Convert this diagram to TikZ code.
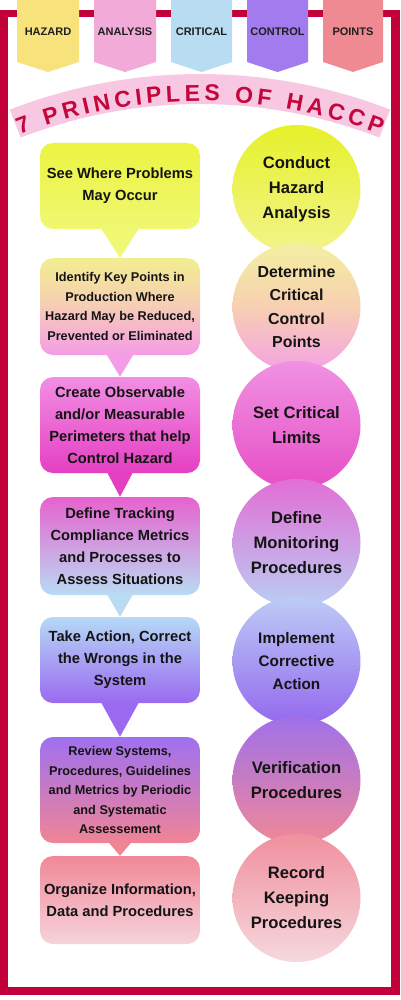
\documentclass[tikz,border=0pt]{standalone}
\usepackage{fontspec}
\setmainfont{Liberation Sans}
\usetikzlibrary{decorations.text}
\definecolor{framered}{HTML}{C20039}
\definecolor{titlered}{HTML}{C4063C}
\definecolor{bandpink}{HTML}{F8C8E3}
\definecolor{bnA}{HTML}{F7E27C}
\definecolor{bnB}{HTML}{F2AAD8}
\definecolor{bnC}{HTML}{B8DCF2}
\definecolor{bnD}{HTML}{A27CEE}
\definecolor{bnE}{HTML}{F08A92}
% boxes
\definecolor{sAt}{HTML}{EBF440}\definecolor{sAb}{HTML}{F0F772}
\definecolor{sBt}{HTML}{F2EE90}\definecolor{sBm}{HTML}{F6CDB5}\definecolor{sBb}{HTML}{F59CE6}
\definecolor{sCt}{HTML}{F28EE4}\definecolor{sCb}{HTML}{E53FC2}
\definecolor{sDt}{HTML}{E662CE}\definecolor{sDb}{HTML}{B9DBF3}
\definecolor{sEt}{HTML}{B5D9F6}\definecolor{sEb}{HTML}{9A6AF0}
\definecolor{sFt}{HTML}{A070F0}\definecolor{sFb}{HTML}{F08595}
\definecolor{sGt}{HTML}{F08898}\definecolor{sGb}{HTML}{F6D3DB}
% circles
\definecolor{cAt}{HTML}{E6F12A}\definecolor{cAb}{HTML}{F2F48C}
\definecolor{cBt}{HTML}{F3F0A0}\definecolor{cBm}{HTML}{F7CFB2}\definecolor{cBb}{HTML}{F4A2E4}
\definecolor{cCt}{HTML}{F092E2}\definecolor{cCb}{HTML}{E64EC6}
\definecolor{cDt}{HTML}{E26ED6}\definecolor{cDb}{HTML}{B9CEF2}
\definecolor{cEt}{HTML}{BCCCF6}\definecolor{cEb}{HTML}{9468EE}
\definecolor{cFt}{HTML}{A070EA}\definecolor{cFb}{HTML}{F08898}
\definecolor{cGt}{HTML}{F0909E}\definecolor{cGb}{HTML}{F6D8DE}
\begin{document}
\begin{tikzpicture}[x=1pt,y=-1pt,
  box/.style={shade, rounded corners=13pt, minimum width=160pt, inner sep=0pt,
    align=center, text=black!92, font=\bfseries\fontsize{14.7}{21.9}\selectfont},
  smallbox/.style={box, font=\bfseries\fontsize{12.7}{19.5}\selectfont},
  disc/.style={circle, shade, minimum size=128pt, inner sep=0pt, align=center,
    text=black!92, font=\bfseries\fontsize{16.6}{25}\selectfont},
  bannertext/.style={font=\bfseries\fontsize{11}{13}\selectfont, text=black!88}
]
\useasboundingbox (0,0) rectangle (400,1000);
% frame
\fill[white] (0,0) rectangle (400,1000);
\fill[framered] (0,10) rectangle (400,995);
\fill[white] (8,17) rectangle (391,987);
% banners
\fill[bnA] (17,0) -- (79,0) -- (79,62) -- (48,72) -- (17,62) -- cycle;
\fill[bnB] (94,0) -- (156,0) -- (156,62) -- (125,72) -- (94,62) -- cycle;
\fill[bnC] (171,0) -- (232,0) -- (232,62) -- (201.5,72) -- (171,62) -- cycle;
\fill[bnD] (247,0) -- (308,0) -- (308,62) -- (277.5,72) -- (247,62) -- cycle;
\fill[bnE] (323,0) -- (383,0) -- (383,62) -- (353,72) -- (323,62) -- cycle;
\node[bannertext] (t1) at (48,32) {HAZARD};
\node[bannertext] (t2) at (125,32) {ANALYSIS};
\node[bannertext] (t3) at (201.5,32) {CRITICAL};
\node[bannertext] (t4) at (277.5,32) {CONTROL};
\node[bannertext] (t5) at (353,32) {POINTS};
% title band
\fill[bandpink] ([shift={(-111.2:526)}]200,600) arc[start angle=-111.2, end angle=-68.8, radius=526]
  -- ([shift={(-68.8:496)}]200,600) arc[start angle=-68.8, end angle=-111.2, radius=496] -- cycle;
\path[decorate, decoration={text along path, text color=titlered,
   text={|\bfseries\fontsize{23}{23}\selectfont|7 PRINCIPLES OF HACCP},
   text align={fit to path}}]
  ([shift={(-111.2:499)}]200,600) arc[start angle=-111.2, end angle=-68.8, radius=499];
% speech boxes
\node[box, top color=sAt, bottom color=sAb, minimum height=86pt] (s1) at (120,186)
  {See Where Problems\\May Occur};
\node[smallbox, top color=sBt, bottom color=sBb, middle color=sBm, minimum height=97pt] (s2) at (120,306.5)
  {Identify Key Points in\\Production Where\\Hazard May be Reduced,\\Prevented or Eliminated};
\node[box, top color=sCt, bottom color=sCb, minimum height=96pt] (s3) at (120,425)
  {Create Observable\\and/or Measurable\\Perimeters that help\\Control Hazard};
\node[box, top color=sDt, bottom color=sDb, minimum height=98pt] (s4) at (120,546)
  {Define Tracking\\Compliance Metrics\\and Processes to\\Assess Situations};
\node[box, top color=sEt, bottom color=sEb, minimum height=86pt] (s5) at (120,660)
  {Take Action, Correct\\the Wrongs in the\\System};
\node[smallbox, top color=sFt, bottom color=sFb, minimum height=106pt] (s6) at (120,790)
  {Review Systems,\\Procedures, Guidelines\\and Metrics by Periodic\\and Systematic\\Assessement};
\node[box, top color=sGt, bottom color=sGb, minimum height=88pt] (s7) at (120,900)
  {Organize Information,\\Data and Procedures};
% pointers
\fill[sAb] ([xshift=-19pt,yshift=1pt]s1.south) -- ([xshift=19pt,yshift=1pt]s1.south) -- (s2.north) -- cycle;
\fill[sBb] ([xshift=-13.5pt,yshift=1pt]s2.south) -- ([xshift=13.5pt,yshift=1pt]s2.south) -- (s3.north) -- cycle;
\fill[sCb] ([xshift=-13pt,yshift=1pt]s3.south) -- ([xshift=13pt,yshift=1pt]s3.south) -- (s4.north) -- cycle;
\fill[sDb] ([xshift=-13pt,yshift=1pt]s4.south) -- ([xshift=13pt,yshift=1pt]s4.south) -- (s5.north) -- cycle;
\fill[sEb] ([xshift=-19pt,yshift=1pt]s5.south) -- ([xshift=19pt,yshift=1pt]s5.south) -- (s6.north) -- cycle;
\fill[sFb] ([xshift=-11.5pt,yshift=1pt]s6.south) -- ([xshift=11.5pt,yshift=1pt]s6.south) -- (s7.north) -- cycle;
% circles
\node[disc, top color=cAt, bottom color=cAb] (c1) at (296.5,189) {Conduct\\Hazard\\Analysis};
\node[disc, top color=cBt, bottom color=cBb, middle color=cBm,
  font=\bfseries\fontsize{15.9}{23.4}\selectfont] (c2) at (296.5,307) {Determine\\Critical\\Control\\Points};
\node[disc, top color=cCt, bottom color=cCb] (c3) at (296.5,425) {Set Critical\\Limits};
\node[disc, top color=cDt, bottom color=cDb] (c4) at (296.5,543) {Define\\Monitoring\\Procedures};
\node[disc, top color=cEt, bottom color=cEb,
  font=\bfseries\fontsize{15.3}{22.8}\selectfont] (c5) at (296.5,661) {Implement\\Corrective\\Action};
\node[disc, top color=cFt, bottom color=cFb] (c6) at (296.5,780) {Verification\\Procedures};
\node[disc, top color=cGt, bottom color=cGb] (c7) at (296.5,898) {Record\\Keeping\\Procedures};
\end{tikzpicture}
\end{document}
